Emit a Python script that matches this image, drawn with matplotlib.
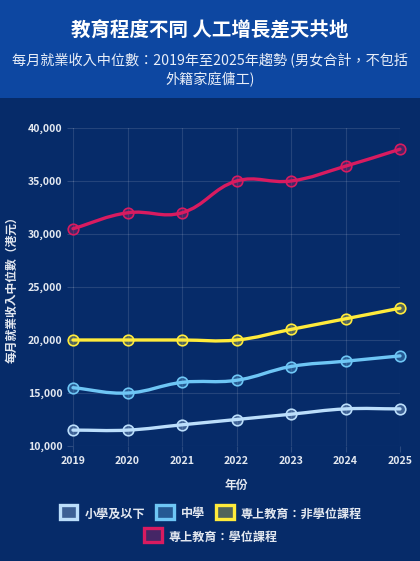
import matplotlib
matplotlib.use("Agg")
import matplotlib.pyplot as plt
from matplotlib.patches import Rectangle, PathPatch
from matplotlib.path import Path
from matplotlib.legend_handler import HandlerBase
import numpy as np

plt.rcParams['font.family'] = ['Noto Sans CJK TC', 'DejaVu Sans']

years = [2019, 2020, 2021, 2022, 2023, 2024, 2025]
series_names = ["小學及以下", "中學", "專上教育：非學位課程", "專上教育：學位課程"]
primary = [11500, 11500, 12000, 12500, 13000, 13500, 13500]
secondary = [15500, 15000, 16000, 16200, 17500, 18000, 18500]
non_degree = [20000, 20000, 20000, 20000, 21000, 22000, 23000]
degree = [30500, 32000, 32000, 35000, 35000, 36400, 38000]
colors = ["#BBDEFB", "#6EC6F5", "#FFEB3B", "#D81B60"]
yticks = [10000, 15000, 20000, 25000, 30000, 35000, 40000]

title = "教育程度不同 人工增長差天共地"
subtitle1 = "每月就業收入中位數：2019年至2025年趨勢 (男女合計，不包括"
subtitle2 = "外籍家庭傭工)"
ylabel = "每月就業收入中位數（港元）"
xlabel = "年份"

BG = "#062B69"
HEADER = "#0D47A1"
TXT = "#E3E8F0"

W, H = 420, 561
fig = plt.figure(figsize=(W / 100, H / 100), dpi=100)
fig.patch.set_facecolor(BG)
fig.patches.append(Rectangle((0, 1 - 98 / H), 1, 98 / H, transform=fig.transFigure,
                             facecolor=HEADER, edgecolor="none", zorder=0))
fig.text(0.5, 1 - 31 / H, title, ha="center", va="center", color="white",
         fontsize=14, fontweight="bold")
fig.text(0.5, 1 - 61 / H, subtitle1, ha="center", va="center", color="#E8EEF8", fontsize=10.2)
fig.text(0.5, 1 - 80 / H, subtitle2, ha="center", va="center", color="#E8EEF8", fontsize=10.2)

left, right, top, bottom = 73, 400, 128, 446
ax = fig.add_axes([left / W, 1 - bottom / H, (right - left) / W, (bottom - top) / H])
ax.set_facecolor(BG)
ax.set_xlim(years[0], years[-1])
ax.set_ylim(yticks[0], yticks[-1])
ax.set_xticks(years)
ax.set_xticklabels([str(y) for y in years])
ax.set_yticks(yticks)
ax.set_yticklabels([f"{v:,}" for v in yticks])
for s in ax.spines.values():
    s.set_visible(False)
ax.grid(True, color="white", alpha=0.12, linewidth=0.8)
ax.tick_params(axis="both", colors=(1, 1, 1, 0.15), labelcolor=TXT, labelsize=7.6, length=4, width=0.8)
for lab in ax.get_xticklabels() + ax.get_yticklabels():
    lab.set_fontweight("bold")
ax.set_xlabel(xlabel, color=TXT, fontsize=8.5, fontweight="bold", labelpad=9)
ax.set_ylabel(ylabel, color=TXT, fontsize=8.5, fontweight="bold", labelpad=7)
ax.set_axisbelow(True)


def smooth_path(xs, ys, tension=0.4):
    pts = ax.transData.transform(np.column_stack([xs, ys]))
    n = len(pts)
    cps = []
    for i in range(n):
        cur = pts[i]
        prev = pts[i - 1] if i > 0 else cur
        nxt = pts[i + 1] if i < n - 1 else cur
        d01 = np.hypot(*(cur - prev))
        d12 = np.hypot(*(nxt - cur))
        tot = d01 + d12
        s01 = d01 / tot if tot else 0
        s12 = d12 / tot if tot else 0
        cp_prev = cur - tension * s01 * (nxt - prev)
        cp_next = cur + tension * s12 * (nxt - prev)
        cps.append((cp_prev, cp_next))
    verts = [pts[0]]
    codes = [Path.MOVETO]
    for i in range(1, n):
        verts += [cps[i - 1][1], cps[i][0], pts[i]]
        codes += [Path.CURVE4] * 3
    inv = ax.transData.inverted()
    return Path(inv.transform(np.array(verts)), codes)


all_series = [primary, secondary, non_degree, degree]
for vals, col in zip(all_series, colors):
    p = smooth_path(years, vals)
    ax.add_patch(PathPatch(p, facecolor="none", edgecolor=col, linewidth=2.4,
                           capstyle="round", joinstyle="round", zorder=3, clip_on=False))
    ax.plot(years, vals, linestyle="none", marker="o", markersize=7.6,
            markerfacecolor=matplotlib.colors.to_rgba(col, 0.3), markeredgecolor=col,
            markeredgewidth=1.2, zorder=4, clip_on=False)


class BoxHandler(HandlerBase):
    def create_artists(self, legend, orig_handle, xdescent, ydescent, width, height, fontsize, trans):
        col = orig_handle.get_edgecolor()
        r = Rectangle((xdescent + 1, ydescent - 1.5), width - 2, height + 3,
                      facecolor=matplotlib.colors.to_rgba(col, 0.3), edgecolor=col,
                      linewidth=2.4, transform=trans)
        return [r]


handles = [Rectangle((0, 0), 1, 1, edgecolor=c, facecolor="none") for c in colors]
common = dict(frameon=False, handler_map={Rectangle: BoxHandler()}, handlelength=1.7,
              handleheight=0.9, handletextpad=0.45, columnspacing=0.8,
              prop={"family": ['Noto Sans CJK TC', 'DejaVu Sans'], "weight": "bold", "size": 8.7},
              labelcolor=TXT)
leg1 = fig.legend(handles[:3], series_names[:3], loc="center", ncol=3,
                  bbox_to_anchor=(0.5, 1 - 514 / H), **common)
leg2 = fig.legend(handles[3:], series_names[3:], loc="center", ncol=1,
                  bbox_to_anchor=(0.5, 1 - 537 / H), **common)

fig.savefig("out.png", dpi=100, facecolor=fig.get_facecolor())
